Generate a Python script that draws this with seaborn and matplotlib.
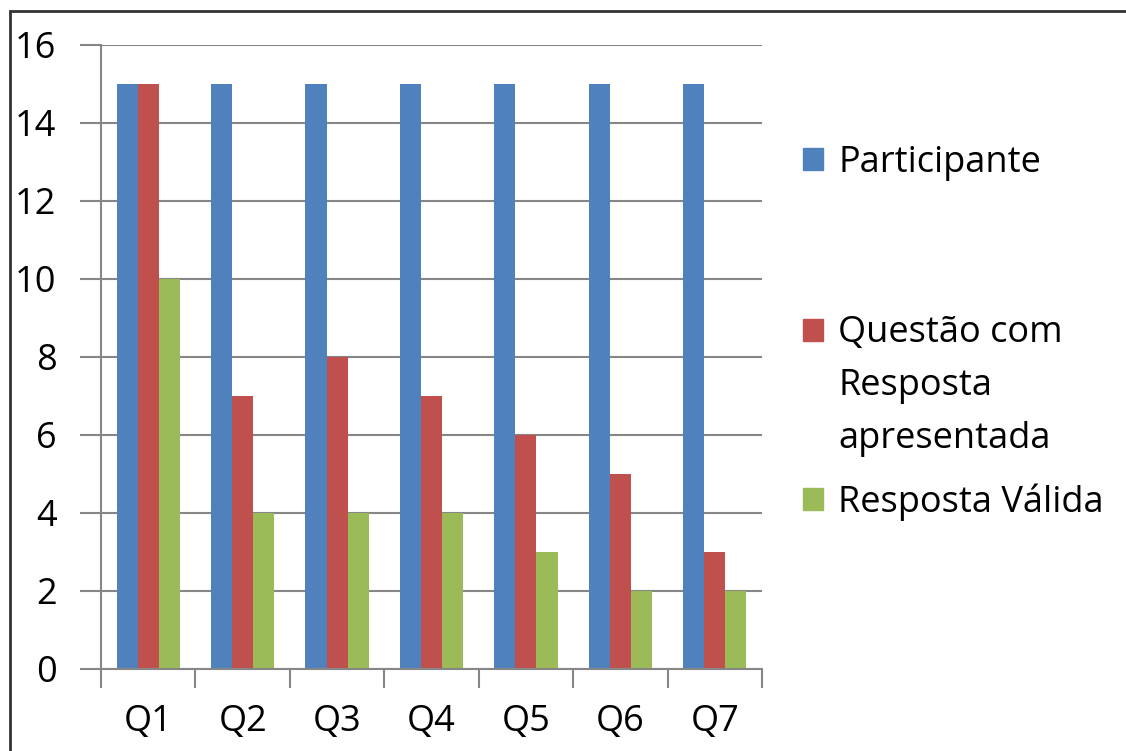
import pandas as pd
import numpy as np
import matplotlib.pyplot as plt
import seaborn as sns
from matplotlib.patches import Patch, Rectangle

# dados
questoes = ['Q1', 'Q2', 'Q3', 'Q4', 'Q5', 'Q6', 'Q7']
participante = [15, 15, 15, 15, 15, 15, 15]
resposta_apresentada = [15, 7, 8, 7, 6, 5, 3]
resposta_valida = [10, 4, 4, 4, 3, 2, 2]
series = ['Participante', 'Questão com Resposta apresentada', 'Resposta Válida']
cores = ['#4F81BD', '#C0504D', '#9BBB59']

df = pd.DataFrame({
    'questao': questoes * 3,
    'valor': participante + resposta_apresentada + resposta_valida,
    'serie': [series[0]] * 7 + [series[1]] * 7 + [series[2]] * 7,
})

sns.set_style('white')
plt.rcParams['font.family'] = ['Open Sans', 'DejaVu Sans']
plt.rcParams['text.color'] = 'black'
plt.rcParams['xtick.labelcolor'] = 'black'
plt.rcParams['ytick.labelcolor'] = 'black'
cinza = '#868686'
fs = 26

fig = plt.figure(figsize=(11.26, 7.51), dpi=100)
ax = fig.add_axes([101 / 1126, 82 / 751, 661 / 1126, 624 / 751])

sns.barplot(data=df, x='questao', y='valor', hue='serie', palette=cores,
            width=0.67, gap=0, saturation=1, linewidth=0, legend=False, ax=ax)

ax.set_xlim(-0.5, 6.5)
ax.set_ylim(0, 16)
ax.set_yticks(np.arange(0, 17, 2))
ax.yaxis.grid(True, color=cinza, linewidth=1.5)
ax.set_axisbelow(True)
ax.set_xlabel('')
ax.set_ylabel('')

# ticks nas fronteiras das categorias, rótulos no centro
ax.set_xticks(np.arange(-0.5, 7, 1))
ax.set_xticklabels([])
ax.set_xticks(np.arange(7), minor=True)
ax.set_xticklabels(questoes, minor=True, fontsize=fs)
ax.tick_params(axis='x', which='major', bottom=True, length=14, width=1.5,
               color=cinza, direction='out')
ax.tick_params(axis='x', which='minor', bottom=True, length=0, pad=25)
ax.tick_params(axis='y', left=True, length=15, width=1.5, color=cinza,
               direction='out', labelsize=fs, pad=17)

for s in ['top', 'right']:
    ax.spines[s].set_visible(False)
for s in ['left', 'bottom']:
    ax.spines[s].set_color(cinza)
    ax.spines[s].set_linewidth(1.5)

# legenda
vazio = Patch(facecolor='none', edgecolor='none')
kw = dict(frameon=False, fontsize=fs, handlelength=0.56, handleheight=0.56,
          handletextpad=0.42, borderaxespad=0, borderpad=0)
l1 = fig.legend([Patch(color=cores[0])], ['Participante'], loc='center left',
                bbox_to_anchor=(803 / 1126, 1 - 163 / 751), **kw)
l2 = fig.legend([Patch(color=cores[1]), vazio, vazio],
                ['Questão com', 'Resposta', 'apresentada'], loc='center left',
                bbox_to_anchor=(803 / 1126, 1 - 386 / 751), labelspacing=0.46, **kw)
l3 = fig.legend([Patch(color=cores[2])], ['Resposta Válida'], loc='center left',
                bbox_to_anchor=(803 / 1126, 1 - 502 / 751), **kw)

# moldura
fig.add_artist(Rectangle((10 / 1126, -0.05), 1.2, 1 - 11 / 751 + 0.05,
                         transform=fig.transFigure, fill=False,
                         edgecolor='#333333', linewidth=2))

plt.savefig('out.png', dpi=100)
